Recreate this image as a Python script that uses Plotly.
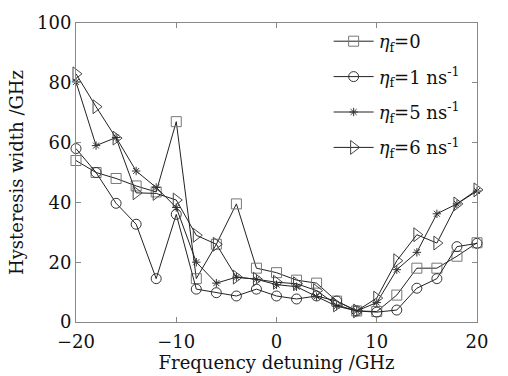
import plotly.graph_objects as go

detuning = [-20, -18, -16, -14, -12, -10, -8, -6, -4, -2, 0, 2, 4, 6, 8, 10, 12, 14, 16, 18, 20]

width_eta0 = [54, 50, 48, 45.5, 43.5, 67, 14.5, 26, 39.5, 18, 16.5, 14, 13, 7, 3.7, 3.5, 9, 18, 18, 22, 26.5]
width_eta1 = [58, 50, 39.7, 32.7, 14.5, 36, 11, 9.8, 8.7, 11, 8.7, 7.7, 8.7, 7, 3.7, 3.3, 4, 11.3, 14.5, 25.2, 26.3]
width_eta5 = [80.3, 59, 61.7, 50.5, 45, 38.3, 20, 13, 15, 14.3, 12.5, 11.8, 8.5, 5.3, 3.7, 6.5, 17.5, 23.3, 36.2, 39.5, 43.8]
width_eta6 = [83, 72, 61.5, 43.2, 43, 40.8, 29, 26, 15, 14.3, 13.3, 12.8, 10.5, 5.7, 3.7, 8, 20.5, 29.2, 26.4, 39.5, 44.2]

series_names = [
    "<i>η</i><sub>f</sub>=0",
    "<i>η</i><sub>f</sub>=1 ns<sup>-1</sup>",
    "<i>η</i><sub>f</sub>=5 ns<sup>-1</sup>",
    "<i>η</i><sub>f</sub>=6 ns<sup>-1</sup>",
]

FONT = "DejaVu Serif"
FS = 18
fig = go.Figure()

styles = [
    (width_eta0, "square-open", 10, "#777777"),
    (width_eta1, "circle-open", 10, "#333333"),
    (width_eta5, "asterisk-open", 7, "#333333"),
    (width_eta6, "triangle-right-open", 12, "#444444"),
]

for i, ((vals, sym, sz, mc), name) in enumerate(zip(styles, series_names)):
    fig.add_trace(go.Scatter(
        x=detuning, y=vals, name=name, mode="lines+markers", legendgroup=f"g{i}",
        line=dict(color="#222222", width=1),
        marker=dict(symbol=sym, size=sz, color=mc, line=dict(color=mc, width=1)),
        cliponaxis=False,
    ))

axis_common = dict(
    showline=True, linecolor="#888888", linewidth=1, mirror="ticks",
    ticks="inside", ticklen=5, tickcolor="#888888", showgrid=False, zeroline=False,
    tickfont=dict(family=FONT, size=FS, color="#111111"),
)

fig.update_xaxes(range=[-20, 20], tickvals=[-20, -10, 0, 10, 20],
                 ticktext=["−20", "−10", "0", "10", "20"], ticklabelstandoff=3,
                 title=dict(text="Frequency detuning /GHz", font=dict(family=FONT, size=FS, color="#111111"), standoff=0),
                 **axis_common)
fig.update_yaxes(range=[0, 100], tickvals=[0, 20, 40, 60, 80, 100],
                 title=dict(text="Hysteresis width /GHz", font=dict(family=FONT, size=FS, color="#111111"), standoff=8),
                 **axis_common)

fig.update_layout(
    width=508, height=376,
    margin=dict(l=76, r=31, t=15, b=54),
    plot_bgcolor="white", paper_bgcolor="white",
    font=dict(family=FONT, size=FS, color="#111111"),
    legend=dict(x=0.63, y=1.0, xanchor="left", yanchor="top",
                bgcolor="rgba(0,0,0,0)", itemwidth=40, tracegroupgap=9,
                font=dict(family=FONT, size=FS, color="#111111")),
)

fig.write_html("out.html")
